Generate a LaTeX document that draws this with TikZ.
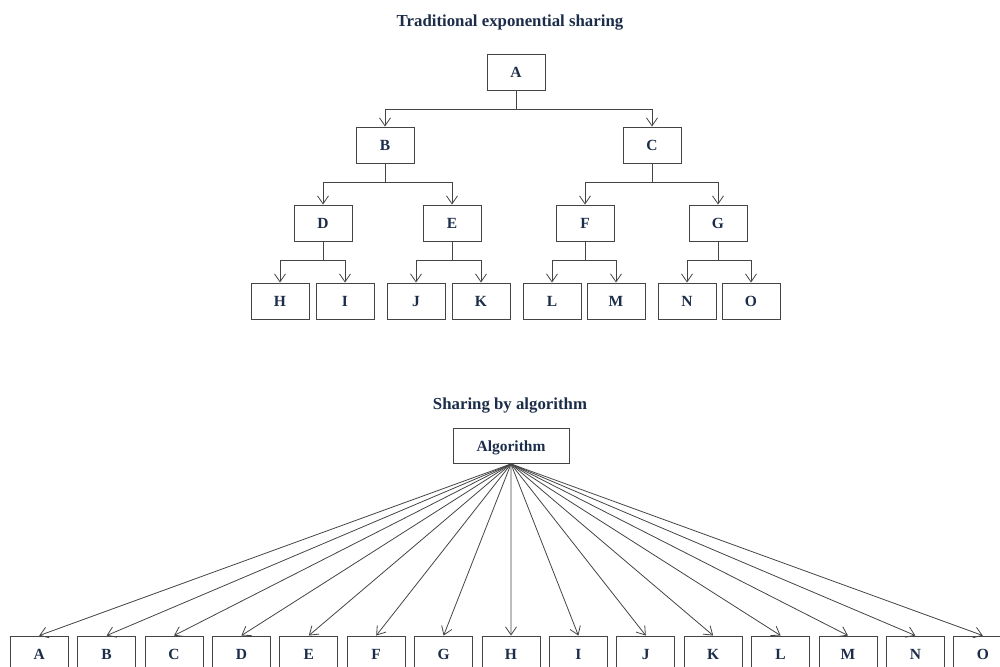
\documentclass[tikz,border=0pt]{standalone}
\usepackage{fontspec}
\setmainfont{Liberation Serif}
\usetikzlibrary{arrows.meta}
\definecolor{txt}{HTML}{1C2D4A}
\definecolor{ln}{HTML}{444444}
\begin{document}
\begin{tikzpicture}[x=1pt,y=-1pt,
  box/.style={draw=ln, line width=0.9pt, minimum width=58pt, minimum height=36pt, inner sep=0pt,
    font=\fontsize{15.5}{18}\selectfont\bfseries, text=txt, text depth=0pt},
  ttl/.style={font=\fontsize{16.8}{20}\selectfont\bfseries, text=txt},
  arr/.style={draw=ln, line width=0.8pt, -{Straight Barb[length=8pt,width=11pt]}}]
\useasboundingbox (0,0) rectangle (1000,666);
\node[ttl] (t1) at (510,23) {Traditional exponential sharing};
\node[ttl] (t2) at (510,406) {Sharing by algorithm};
% top tree
\node[box] (A) at (516,72) {A};
\node[box] (B) at (385,145) {B};
\node[box] (C) at (652,145) {C};
\node[box] (D) at (323,223) {D};
\node[box] (E) at (452,223) {E};
\node[box] (F) at (585,223) {F};
\node[box] (G) at (718,223) {G};
\node[box] (H) at (280,301) {H};
\node[box] (I) at (345,301) {I};
\node[box] (J) at (416,301) {J};
\node[box] (K) at (481,301) {K};
\node[box] (L) at (552,301) {L};
\node[box] (M) at (616,301) {M};
\node[box] (N) at (687,301) {N};
\node[box] (O) at (751,301) {O};
\foreach \p/\a/\b in {A/B/C,B/D/E,C/F/G,D/H/I,E/J/K,F/L/M,G/N/O}{
  \draw[arr] (\p.south) -- ++(0,19) -| (\a.north);
  \draw[arr] (\p.south) -- ++(0,19) -| (\b.north);
}
% bottom
\node[box, minimum width=116pt, minimum height=35pt] (alg) at (511,446) {Algorithm};
\foreach \l [count=\i from 0] in {A,B,C,D,E,F,G,H,I,J,K,L,M,N,O}{
  \node[box] (b\l) at ({39.2+67.4*\i},654) {\l};
  \draw[arr] (alg.south) -- (b\l.north);
}
\end{tikzpicture}
\end{document}
